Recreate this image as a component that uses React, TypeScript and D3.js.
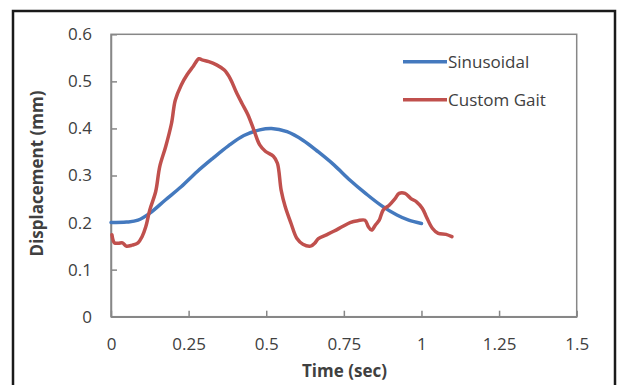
import React, { useEffect, useRef } from 'react';
import * as d3 from 'd3';

// Sinusoidal input (time in sec, displacement in mm)
const sinT = [0, 0.05, 0.087, 0.125, 0.175, 0.226, 0.277, 0.327, 0.378, 0.428, 0.479, 0.517, 0.567, 0.618, 0.668, 0.719, 0.77, 0.82, 0.871, 0.921, 0.959, 1.0];
const sinY = [0.2, 0.201, 0.205, 0.22, 0.248, 0.276, 0.308, 0.336, 0.363, 0.385, 0.397, 0.4, 0.393, 0.375, 0.35, 0.322, 0.29, 0.262, 0.236, 0.216, 0.205, 0.198];

// Custom gait trace
const gaitT = [0.003, 0.011, 0.024, 0.037, 0.049, 0.068, 0.087, 0.1, 0.112, 0.125, 0.144, 0.157, 0.176, 0.195, 0.207, 0.226, 0.245, 0.264, 0.283, 0.296, 0.315, 0.34, 0.365, 0.384, 0.403, 0.422, 0.441, 0.46, 0.479, 0.498, 0.523, 0.536, 0.548, 0.561, 0.58, 0.599, 0.618, 0.643, 0.656, 0.668, 0.694, 0.719, 0.744, 0.77, 0.795, 0.818, 0.829, 0.839, 0.852, 0.864, 0.877, 0.896, 0.915, 0.928, 0.947, 0.966, 0.984, 1.003, 1.016, 1.035, 1.054, 1.079, 1.098];
const gaitY = [0.174, 0.157, 0.156, 0.157, 0.15, 0.152, 0.157, 0.17, 0.191, 0.227, 0.266, 0.319, 0.361, 0.411, 0.46, 0.492, 0.514, 0.531, 0.548, 0.545, 0.542, 0.535, 0.524, 0.506, 0.478, 0.453, 0.429, 0.397, 0.365, 0.351, 0.341, 0.326, 0.269, 0.234, 0.198, 0.166, 0.154, 0.15, 0.156, 0.166, 0.174, 0.182, 0.191, 0.2, 0.204, 0.205, 0.191, 0.184, 0.195, 0.205, 0.227, 0.237, 0.251, 0.262, 0.262, 0.251, 0.244, 0.23, 0.212, 0.188, 0.177, 0.175, 0.17];

const xTicks = [0, 0.25, 0.5, 0.75, 1, 1.25, 1.5];
const yTicks = [0, 0.1, 0.2, 0.3, 0.4, 0.5, 0.6];
const seriesNames = ['Sinusoidal', 'Custom Gait'];
const seriesColors = ['#4479be', '#c0504d'];

export default function App() {
  const ref = useRef<SVGSVGElement | null>(null);

  useEffect(() => {
    const svg = d3.select(ref.current);
    svg.selectAll('*').remove();
    const font = '"Open Sans", Lato, sans-serif';
    const txt = '#404040';

    const x = d3.scaleLinear().domain([0, 1.5]).range([111, 576.7]);
    const y = d3.scaleLinear().domain([0, 0.6]).range([316.7, 34.3]);

    svg.append('rect').attr('width', 617).attr('height', 385).attr('fill', '#fff');
    svg.append('rect').attr('x', 13).attr('y', 11).attr('width', 602).attr('height', 390)
      .attr('fill', 'none').attr('stroke', '#1a1a1a').attr('stroke-width', 2.5);

    // plot frame
    svg.append('rect').attr('x', x(0)).attr('y', y(0.6)).attr('width', x(1.5) - x(0)).attr('height', y(0) - y(0.6))
      .attr('fill', 'none').attr('stroke', '#878787').attr('stroke-width', 1.5);

    const gx = svg.append('g').attr('transform', `translate(0,${y(0)})`)
      .call(d3.axisBottom(x).tickValues(xTicks).tickSizeInner(-6).tickSizeOuter(0).tickPadding(20).tickFormat(d => String(d)));
    const gy = svg.append('g').attr('transform', `translate(${x(0)},0)`)
      .call(d3.axisLeft(y).tickValues(yTicks).tickSizeInner(-6).tickSizeOuter(0).tickPadding(19).tickFormat(d => String(d)));
    [gx, gy].forEach(g => {
      g.select('.domain').attr('stroke', '#878787').attr('stroke-width', 1.5);
      g.selectAll('.tick line').attr('stroke', '#878787').attr('stroke-width', 1.5);
      g.selectAll('.tick text').attr('fill', txt).style('font-family', font).style('font-size', '17px');
    });
    gx.selectAll('.tick text').attr('dy', '0.78em');

    const line = d3.line<[number, number]>().x(d => x(d[0])).y(d => y(d[1]));
    const sinPts = sinT.map((t, i) => [t, sinY[i]] as [number, number]);
    const gaitPts = gaitT.map((t, i) => [t, gaitY[i]] as [number, number]);
    svg.append('path').attr('d', line.curve(d3.curveCatmullRom.alpha(0.5))(sinPts))
      .attr('fill', 'none').attr('stroke', seriesColors[0]).attr('stroke-width', 3.5).attr('stroke-linecap', 'round');
    svg.append('path').attr('d', line.curve(d3.curveCatmullRom.alpha(0.5))(gaitPts))
      .attr('fill', 'none').attr('stroke', seriesColors[1]).attr('stroke-width', 3.5)
      .attr('stroke-linecap', 'round').attr('stroke-linejoin', 'round');

    // legend
    seriesNames.forEach((name, i) => {
      const ly = 61.7 + i * 38;
      svg.append('line').attr('x1', 403).attr('x2', 447).attr('y1', ly).attr('y2', ly)
        .attr('stroke', seriesColors[i]).attr('stroke-width', 3.5);
      svg.append('text').attr('x', 448).attr('y', ly).attr('dy', '0.35em').text(name)
        .attr('fill', txt).style('font-family', font).style('font-size', '17px');
    });

    svg.append('text').attr('x', 344.5).attr('y', 377).attr('text-anchor', 'middle').text('Time (sec)')
      .attr('fill', txt).style('font-family', font).style('font-size', '17px').style('font-weight', 'bold');
    svg.append('text').attr('transform', 'translate(43,173.5) rotate(-90)').attr('text-anchor', 'middle')
      .text('Displacement (mm)')
      .attr('fill', txt).style('font-family', font).style('font-size', '17px').style('font-weight', 'bold');
  }, []);

  return <svg ref={ref} width={617} height={385} style={{ position: 'absolute', left: 0, top: 0 }} />;
}
